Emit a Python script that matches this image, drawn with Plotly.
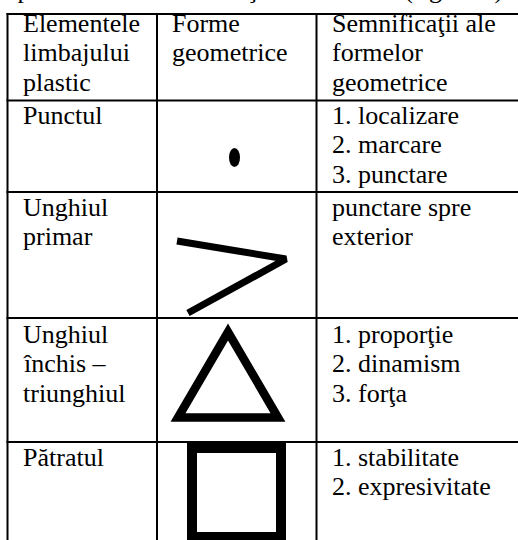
import plotly.graph_objects as go

# table content
header_cells = [
    ["Elementele", "limbajului", "plastic"],
    ["Forme", "geometrice"],
    ["Semnificaţii ale", "formelor", "geometrice"],
]
element_names = [
    ["Punctul"],
    ["Unghiul", "primar"],
    ["Unghiul", "închis –", "triunghiul"],
    ["Pătratul"],
]
meanings = [
    ["1. localizare", "2. marcare", "3. punctare"],
    ["punctare spre", "exterior"],
    ["1. proporţie", "2. dinamism", "3. forţa"],
    ["1. stabilitate", "2. expresivitate"],
]
caption_above = "Spectrul elementelor acţionează astfel (figura 1)"

# layout in pixels (axes run 0..518 by 0..540, y downwards)
W, H = 518, 540
col_lines = [7.5, 157, 316.5]
row_lines = [14, 100.5, 192, 318, 442]
text_x = [23, 172, 332]
first_baseline = [32, 124, 216, 343, 466]
line_gap = 29.5
FS = 26
FONT = "Liberation Serif"

fig = go.Figure()

# grid
for x in col_lines:
    fig.add_shape(type="line", x0=x, x1=x, y0=row_lines[0] - 1, y1=H,
                  line=dict(color="black", width=2))
for y in row_lines:
    fig.add_shape(type="line", x0=col_lines[0] - 1, x1=W, y0=y, y1=y,
                  line=dict(color="black", width=2))


def put_lines(col, row, lines):
    for i, t in enumerate(lines):
        base = first_baseline[row] + i * line_gap
        fig.add_annotation(x=text_x[col], y=base - 0.3375 * FS, text=t,
                           xanchor="left", yanchor="middle", showarrow=False,
                           borderpad=0, borderwidth=0,
                           font=dict(family=FONT, size=FS, color="black"))


for c, lines in enumerate(header_cells):
    put_lines(c, 0, lines)
for r, lines in enumerate(element_names):
    put_lines(0, r + 1, lines)
for r, lines in enumerate(meanings):
    put_lines(2, r + 1, lines)

# line of text above the table, only its descenders show at the top edge
fig.add_annotation(x=3 / W, y=1 - (-1.5 - 0.3375 * FS) / H, xref="paper", yref="paper",
                   text=caption_above, xanchor="left", yanchor="middle",
                   showarrow=False, borderpad=0, borderwidth=0,
                   font=dict(family=FONT, size=FS, color="black"))

# the shapes in the middle column
fig.add_shape(type="circle", x0=229, x1=240, y0=148, y1=167,
              fillcolor="black", line=dict(width=0))

fig.add_trace(go.Scatter(x=[177, 286, 188], y=[241, 259, 313], mode="lines",
                         line=dict(color="black", width=7), hoverinfo="skip"))

fig.add_shape(type="path", path="M 178 417.5 L 228 332 L 278 417.5 Z",
              line=dict(color="black", width=8.5), fillcolor="rgba(0,0,0,0)")

fig.add_shape(type="rect", x0=192, x1=281, y0=448, y1=537,
              line=dict(color="black", width=10), fillcolor="rgba(0,0,0,0)")

fig.update_xaxes(range=[0, W], visible=False, fixedrange=True)
fig.update_yaxes(range=[H, 0], visible=False, fixedrange=True)
fig.update_layout(width=W, height=H, margin=dict(l=0, r=0, t=0, b=0),
                  paper_bgcolor="white", plot_bgcolor="white",
                  showlegend=False)

fig.write_html("out.html", config={"displayModeBar": False},
               post_script="document.body.style.margin='0';")
